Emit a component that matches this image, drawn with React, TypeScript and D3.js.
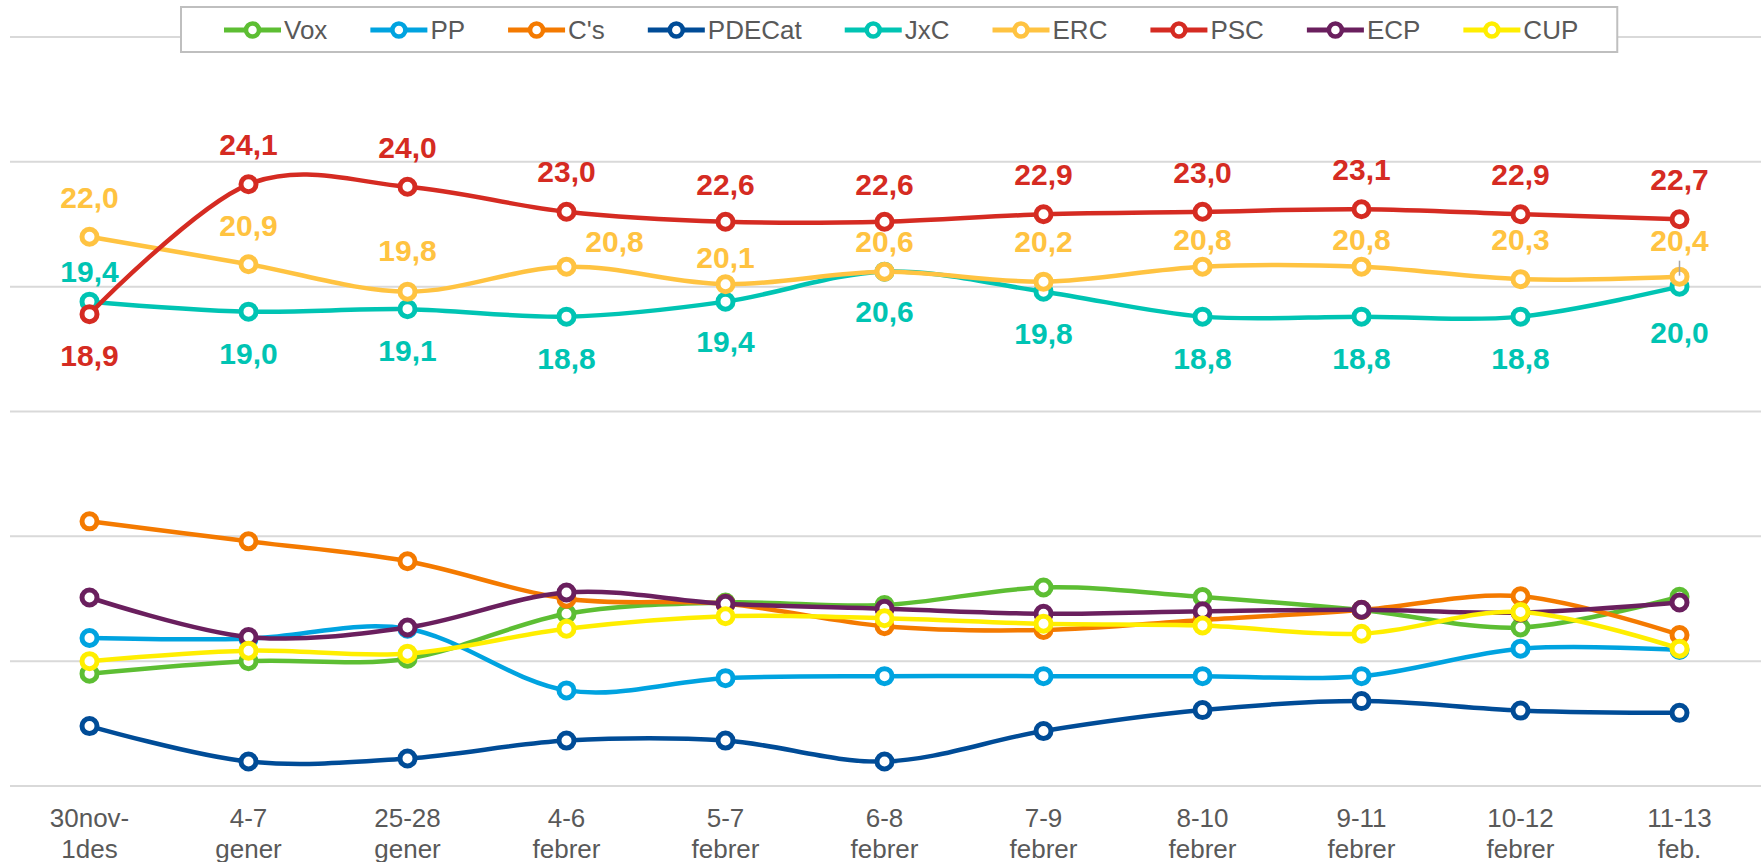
import React, { useEffect, useRef } from 'react';
import * as d3 from 'd3';

const categories = [
  '30nov-|1des', '4-7|gener', '25-28|gener', '4-6|febrer', '5-7|febrer', '6-8|febrer',
  '7-9|febrer', '8-10|febrer', '9-11|febrer', '10-12|febrer', '11-13|feb.',
];

const seriesNames = ['Vox', 'PP', "C's", 'PDECat', 'JxC', 'ERC', 'PSC', 'ECP', 'CUP'];
const seriesColors = ['#5DBE33', '#00A3E0', '#F47A00', '#004C97', '#00C4B3', '#FFC341', '#D52B22', '#6A1F5E', '#FFEE00'];

const vox = [4.5, 5.0, 5.1, 6.9, 7.35, 7.25, 7.95, 7.57, 7.05, 6.35, 7.58];
const pp = [5.93, 5.9, 6.3, 3.83, 4.32, 4.4, 4.4, 4.4, 4.4, 5.5, 5.45];
const cs = [10.6, 9.8, 9.0, 7.5, 7.3, 6.4, 6.25, 6.65, 7.05, 7.6, 6.05];
const pdecat = [2.4, 0.98, 1.1, 1.82, 1.82, 0.98, 2.2, 3.04, 3.4, 3.02, 2.93];
const jxc = [19.4, 19.0, 19.1, 18.8, 19.4, 20.6, 19.8, 18.8, 18.8, 18.8, 20.0];
const erc = [22.0, 20.9, 19.8, 20.8, 20.1, 20.6, 20.2, 20.8, 20.8, 20.3, 20.4];
const psc = [18.9, 24.1, 24.0, 23.0, 22.6, 22.6, 22.9, 23.0, 23.1, 22.9, 22.7];
const ecp = [7.55, 5.97, 6.35, 7.75, 7.3, 7.1, 6.9, 7.0, 7.06, 6.95, 7.35];
const cup = [5.0, 5.42, 5.3, 6.3, 6.8, 6.72, 6.5, 6.43, 6.1, 6.97, 5.5];

const seriesValues = [vox, pp, cs, pdecat, jxc, erc, psc, ecp, cup];

const yTicks = [0, 5, 10, 15, 20, 25, 30];

// label placement (layout only): baseline offset from point, horizontal offset
const labelLayout: Record<string, { dy: number[]; dx: number[] }> = {
  JxC: { dy: [-20, 52, 52, 52, 50, 50, 52, 52, 52, 52, 56], dx: [0, 0, 0, 0, 0, 0, 0, 0, 0, 0, 0] },
  ERC: { dy: [-29, -28, -31, -15, -16, -20, -30, -17, -17, -29, -26], dx: [0, 0, 0, 48, 0, 0, 0, 0, 0, 0, 0] },
  PSC: { dy: [52, -29, -29, -30, -27, -27, -29, -29, -29, -29, -29], dx: [0, 0, 0, 0, 0, 0, 0, 0, 0, 0, 0] },
};

const W = 1761;
const H = 862;
const FONT = '"Liberation Sans", Arial, Helvetica, sans-serif';

export default function App() {
  const ref = useRef<SVGSVGElement | null>(null);

  useEffect(() => {
    document.body.style.margin = '0';
    const svg = d3.select(ref.current);
    svg.selectAll('*').remove();

    const x = d3.scalePoint<number>().domain(d3.range(categories.length)).range([10, 1759]).padding(0.5);
    const y = d3.scaleLinear().domain([0, 30]).range([786, 37]);

    // gridlines
    svg.append('g')
      .selectAll('line')
      .data(yTicks)
      .join('line')
      .attr('x1', 10)
      .attr('x2', W)
      .attr('y1', (d) => y(d))
      .attr('y2', (d) => y(d))
      .attr('stroke', '#D9D9D9')
      .attr('stroke-width', 2);

    // x labels
    const xl = svg.append('g')
      .selectAll('text')
      .data(categories)
      .join('text')
      .attr('x', (_d, i) => x(i) as number)
      .attr('text-anchor', 'middle')
      .attr('font-family', FONT)
      .attr('font-size', 26)
      .attr('fill', '#595959');
    xl.append('tspan').attr('x', (_d, i) => x(i) as number).attr('y', 827).text((d) => d.split('|')[0]);
    xl.append('tspan').attr('x', (_d, i) => x(i) as number).attr('y', 858).text((d) => d.split('|')[1]);

    const line = d3.line<number>()
      .x((_d, i) => x(i) as number)
      .y((d) => y(d))
      .curve(d3.curveCardinal.tension(0));

    seriesValues.forEach((vals, si) => {
      const g = svg.append('g');
      g.append('path')
        .attr('d', line(vals))
        .attr('fill', 'none')
        .attr('stroke', seriesColors[si])
        .attr('stroke-width', 4.5)
        .attr('stroke-linejoin', 'round');
      g.selectAll('circle')
        .data(vals)
        .join('circle')
        .attr('cx', (_d, i) => x(i) as number)
        .attr('cy', (d) => y(d))
        .attr('r', 7.5)
        .attr('fill', '#fff')
        .attr('stroke', seriesColors[si])
        .attr('stroke-width', 5);
    });

    // data labels
    Object.keys(labelLayout).forEach((name) => {
      const si = seriesNames.indexOf(name);
      const vals = seriesValues[si];
      const lay = labelLayout[name];
      svg.append('g')
        .selectAll('text')
        .data(vals)
        .join('text')
        .attr('x', (_d, i) => (x(i) as number) + lay.dx[i])
        .attr('y', (d, i) => y(d) + lay.dy[i])
        .attr('text-anchor', 'middle')
        .attr('font-family', FONT)
        .attr('font-weight', 'bold')
        .attr('font-size', 30)
        .attr('fill', seriesColors[si])
        .text((d) => d3.format('.1f')(d).replace('.', ','));
    });

    // leader line for last ERC label
    {
      const si = seriesNames.indexOf('ERC');
      const last = categories.length - 1;
      const px = x(last) as number;
      const py = y(seriesValues[si][last]);
      svg.append('line')
        .attr('x1', px).attr('x2', px)
        .attr('y1', py - 16).attr('y2', py - 1)
        .attr('stroke', '#A6A6A6')
        .attr('stroke-width', 1.5);
    }

    // legend
    const lg = svg.append('g');
    const box = lg.append('rect')
      .attr('x', 181)
      .attr('y', 7)
      .attr('height', 45)
      .attr('fill', '#fff')
      .attr('stroke', '#BFBFBF')
      .attr('stroke-width', 2);
    let cx = 224;
    const ly = 30;
    seriesNames.forEach((name, si) => {
      lg.append('line')
        .attr('x1', cx).attr('x2', cx + 57)
        .attr('y1', ly).attr('y2', ly)
        .attr('stroke', seriesColors[si])
        .attr('stroke-width', 5);
      lg.append('circle')
        .attr('cx', cx + 28.5).attr('cy', ly)
        .attr('r', 6.5)
        .attr('fill', '#fff')
        .attr('stroke', seriesColors[si])
        .attr('stroke-width', 4.5);
      const t = lg.append('text')
        .attr('x', cx + 60)
        .attr('y', 39)
        .attr('font-family', FONT)
        .attr('font-size', 26)
        .attr('fill', '#595959')
        .text(name);
      const tw = (t.node() as SVGTextElement).getComputedTextLength();
      cx = cx + 60 + tw + 43;
    });
    box.attr('width', cx - 43 + 39 - 181);
  }, []);

  return (
    <svg
      ref={ref}
      width={W}
      height={H}
      style={{ position: 'absolute', left: 0, top: 0, background: '#fff' }}
    />
  );
}
